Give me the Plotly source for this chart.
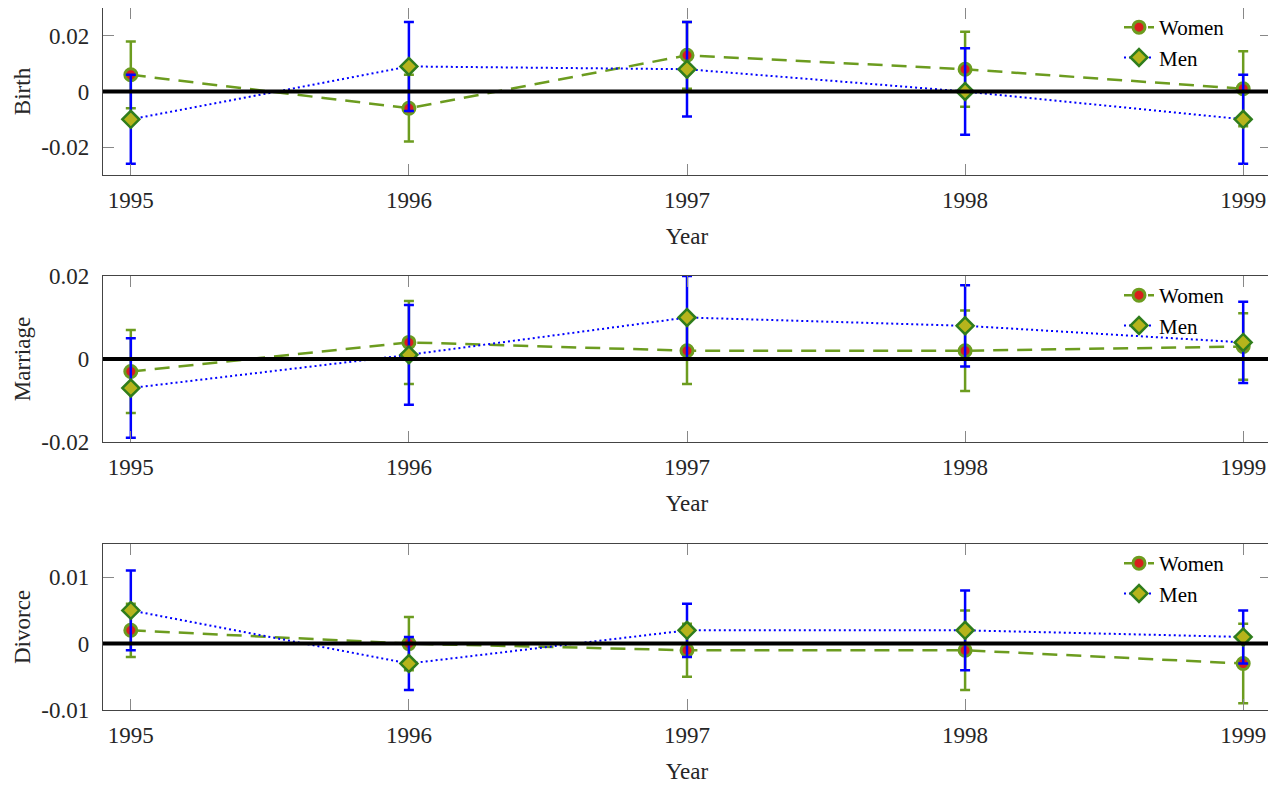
import plotly.graph_objects as go

years = [1995, 1996, 1997, 1998, 1999]
panels = ["Birth", "Marriage", "Divorce"]

birth_women = [0.006, -0.006, 0.013, 0.008, 0.001]
birth_women_err = [0.012, 0.012, 0.012, 0.0135, 0.0135]
birth_men = [-0.010, 0.009, 0.008, 0.000, -0.010]
birth_men_err = [0.016, 0.016, 0.017, 0.0155, 0.016]

marriage_women = [-0.003, 0.004, 0.002, 0.002, 0.003]
marriage_women_err = [0.010, 0.010, 0.008, 0.0097, 0.008]
marriage_men = [-0.007, 0.001, 0.010, 0.008, 0.004]
marriage_men_err = [0.012, 0.012, 0.010, 0.0098, 0.0098]

divorce_women = [0.002, 0.000, -0.001, -0.001, -0.003]
divorce_women_err = [0.004, 0.004, 0.004, 0.006, 0.006]
divorce_men = [0.005, -0.003, 0.002, 0.002, 0.001]
divorce_men_err = [0.006, 0.004, 0.004, 0.006, 0.004]

y_ranges = [[-0.03, 0.03], [-0.02, 0.02], [-0.01, 0.015]]
y_tickvals = [[-0.02, 0, 0.02], [-0.02, 0, 0.02], [-0.01, 0, 0.01]]
y_ticktext = [["-0.02", "0", "0.02"], ["-0.02", "0", "0.02"], ["-0.01", "0", "0.01"]]
x_ticktext = ["1995", "1996", "1997", "1998", "1999"]

women_data = [(birth_women, birth_women_err), (marriage_women, marriage_women_err), (divorce_women, divorce_women_err)]
men_data = [(birth_men, birth_men_err), (marriage_men, marriage_men_err), (divorce_men, divorce_men_err)]

GREEN = "#6c9c1f"
RED = "#d81e1e"
BLUE = "#0000ff"
OLIVE = "#b6b41c"
DKGREEN = "#2f7d1c"
TXT = "#262626"
FONT = "Liberation Serif"

# the page body has an 8px margin; figure sized to fit the window
OFF = 8
W, H = 1276 - OFF, 785 - OFF
x0px, x1px = 103 - OFF, 1271 - OFF
panel_px = [(8 - OFF, 175 - OFF), (276 - OFF, 442 - OFF), (544 - OFF, 710 - OFF)]

fig = go.Figure()
legend_names = ["legend", "legend2", "legend3"]

for i in range(3):
    xa = "x" if i == 0 else f"x{i+1}"
    ya = "y" if i == 0 else f"y{i+1}"
    wv, we = women_data[i]
    mv, me = men_data[i]
    fig.add_trace(go.Scatter(
        x=years, y=wv, mode="lines+markers", name="Women",
        xaxis=xa, yaxis=ya, legend=legend_names[i],
        line=dict(color=GREEN, width=2.5, dash="15px,9px"),
        marker=dict(symbol="circle", size=12, color=RED, line=dict(color=GREEN, width=3)),
        error_y=dict(type="data", array=we, symmetric=True, color=GREEN, thickness=2.5, width=5),
    ))
    fig.add_trace(go.Scatter(
        x=years, y=mv, mode="lines+markers", name="Men",
        xaxis=xa, yaxis=ya, legend=legend_names[i],
        line=dict(color=BLUE, width=2, dash="2px,3px"),
        marker=dict(symbol="diamond", size=13, color=OLIVE, line=dict(color=DKGREEN, width=2.5)),
        error_y=dict(type="data", array=me, symmetric=True, color=BLUE, thickness=2.5, width=5),
    ))

layout = dict(
    width=W, height=H, margin=dict(l=0, r=0, t=0, b=0, autoexpand=False),
    paper_bgcolor="white", plot_bgcolor="white",
    font=dict(family=FONT, size=23, color=TXT),
    shapes=[],
)
for i in range(3):
    top, bot = panel_px[i]
    dom_y = [1 - bot / H, 1 - top / H]
    xk = "xaxis" if i == 0 else f"xaxis{i+1}"
    yk = "yaxis" if i == 0 else f"yaxis{i+1}"
    ya = "y" if i == 0 else f"y{i+1}"
    xa = "x" if i == 0 else f"x{i+1}"
    layout[xk] = dict(
        domain=[x0px / W, x1px / W], anchor=ya, range=[1994.9, 1999.1], automargin=False,
        tickvals=years, ticktext=x_ticktext, ticks="inside", ticklen=11,
        tickcolor="#888888", tickwidth=1.3, showline=True, linecolor="#444444",
        linewidth=1.3, mirror="ticks", showgrid=False, zeroline=False,
        tickfont=dict(family=FONT, size=23, color=TXT), ticklabelstandoff=4,
        title=dict(text="Year", font=dict(family=FONT, size=23, color=TXT), standoff=16),
    )
    layout[yk] = dict(
        domain=dom_y, anchor=xa, range=y_ranges[i], automargin=False,
        tickvals=y_tickvals[i], ticktext=y_ticktext[i], ticks="inside", ticklen=11,
        tickcolor="#888888", tickwidth=1.3, showline=True, linecolor="#444444",
        linewidth=1.3, mirror="ticks", showgrid=False, zeroline=False,
        tickfont=dict(family=FONT, size=23, color=TXT), ticklabelstandoff=8,
        title=dict(text=panels[i], font=dict(family=FONT, size=23, color=TXT), standoff=4),
    )
    layout["shapes"].append(dict(
        type="line", xref=f"{xa} domain", yref=ya, x0=0, x1=1, y0=0, y1=0,
        line=dict(color="black", width=4), layer="above",
    ))
    lg = legend_names[i]
    layout[lg] = dict(
        x=(1119 - OFF) / W, y=1 - (top - 1) / H, xanchor="left", yanchor="top",
        bgcolor="rgba(255,255,255,0)", borderwidth=0,
        font=dict(family=FONT, size=21, color="black"), tracegroupgap=0,
    )

fig.update_layout(**layout)
fig.write_html("out.html")
